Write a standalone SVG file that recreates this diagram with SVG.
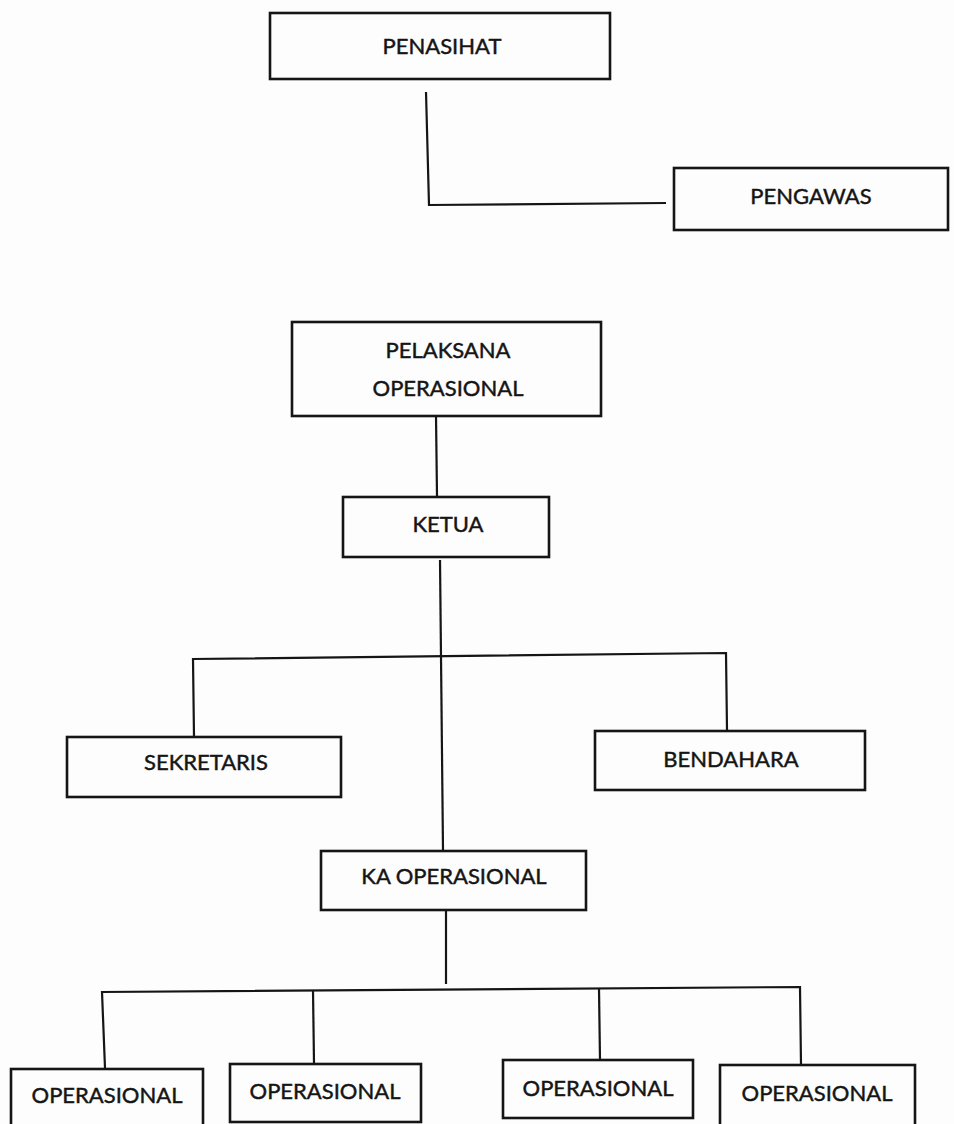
<svg xmlns="http://www.w3.org/2000/svg" width="954" height="1124" viewBox="0 0 954 1124">
<style>
.box{fill:none;stroke:#151515;stroke-width:2.6}
.ln{fill:none;stroke:#151515;stroke-width:2.2;stroke-linecap:butt}
text{font-family:Lato,"Open Sans","Liberation Sans",sans-serif;font-size:22px;fill:#151515;stroke:#151515;stroke-width:0.45;text-anchor:middle}
</style>
<rect width="954" height="1124" fill="#fdfdfd"/>
<g id="connectors">
<path class="ln" d="M426 92 L429 205 L666 203"/>
<path class="ln" d="M436 416 L437 496"/>
<path class="ln" d="M440 560 L443 850"/>
<path class="ln" d="M194 737 L193 659 L726 653 L727 730"/>
<path class="ln" d="M446 910 L446 984"/>
<path class="ln" d="M105 1068 L102 992 L800 987 L801 1065"/>
<path class="ln" d="M313 990 L314 1063"/>
<path class="ln" d="M599 988 L600 1060"/>
</g>
<g id="penasihat"><rect class="box" x="270" y="13" width="340" height="66"/><text x="442" y="54">PENASIHAT</text></g>
<g id="pengawas"><rect class="box" x="674" y="168" width="274" height="62"/><text x="811" y="204">PENGAWAS</text></g>
<g id="pelaksana"><rect class="box" x="292" y="322" width="309" height="94"/><text x="448" y="358">PELAKSANA</text><text x="448" y="396">OPERASIONAL</text></g>
<g id="ketua"><rect class="box" x="343" y="497" width="206" height="60"/><text x="448" y="532">KETUA</text></g>
<g id="sekretaris"><rect class="box" x="67" y="737" width="274" height="60"/><text x="206" y="770">SEKRETARIS</text></g>
<g id="bendahara"><rect class="box" x="595" y="731" width="270" height="59"/><text x="731" y="767">BENDAHARA</text></g>
<g id="ka-operasional"><rect class="box" x="321" y="851" width="265" height="59"/><text x="454" y="884">KA OPERASIONAL</text></g>
<g id="operasional-1"><rect class="box" x="11" y="1069" width="192" height="60"/><text x="107" y="1103">OPERASIONAL</text></g>
<g id="operasional-2"><rect class="box" x="230" y="1064" width="191" height="58"/><text x="325" y="1099">OPERASIONAL</text></g>
<g id="operasional-3"><rect class="box" x="503" y="1060" width="190" height="58"/><text x="598" y="1096">OPERASIONAL</text></g>
<g id="operasional-4"><rect class="box" x="720" y="1065" width="195" height="64"/><text x="817" y="1101">OPERASIONAL</text></g>
</svg>
